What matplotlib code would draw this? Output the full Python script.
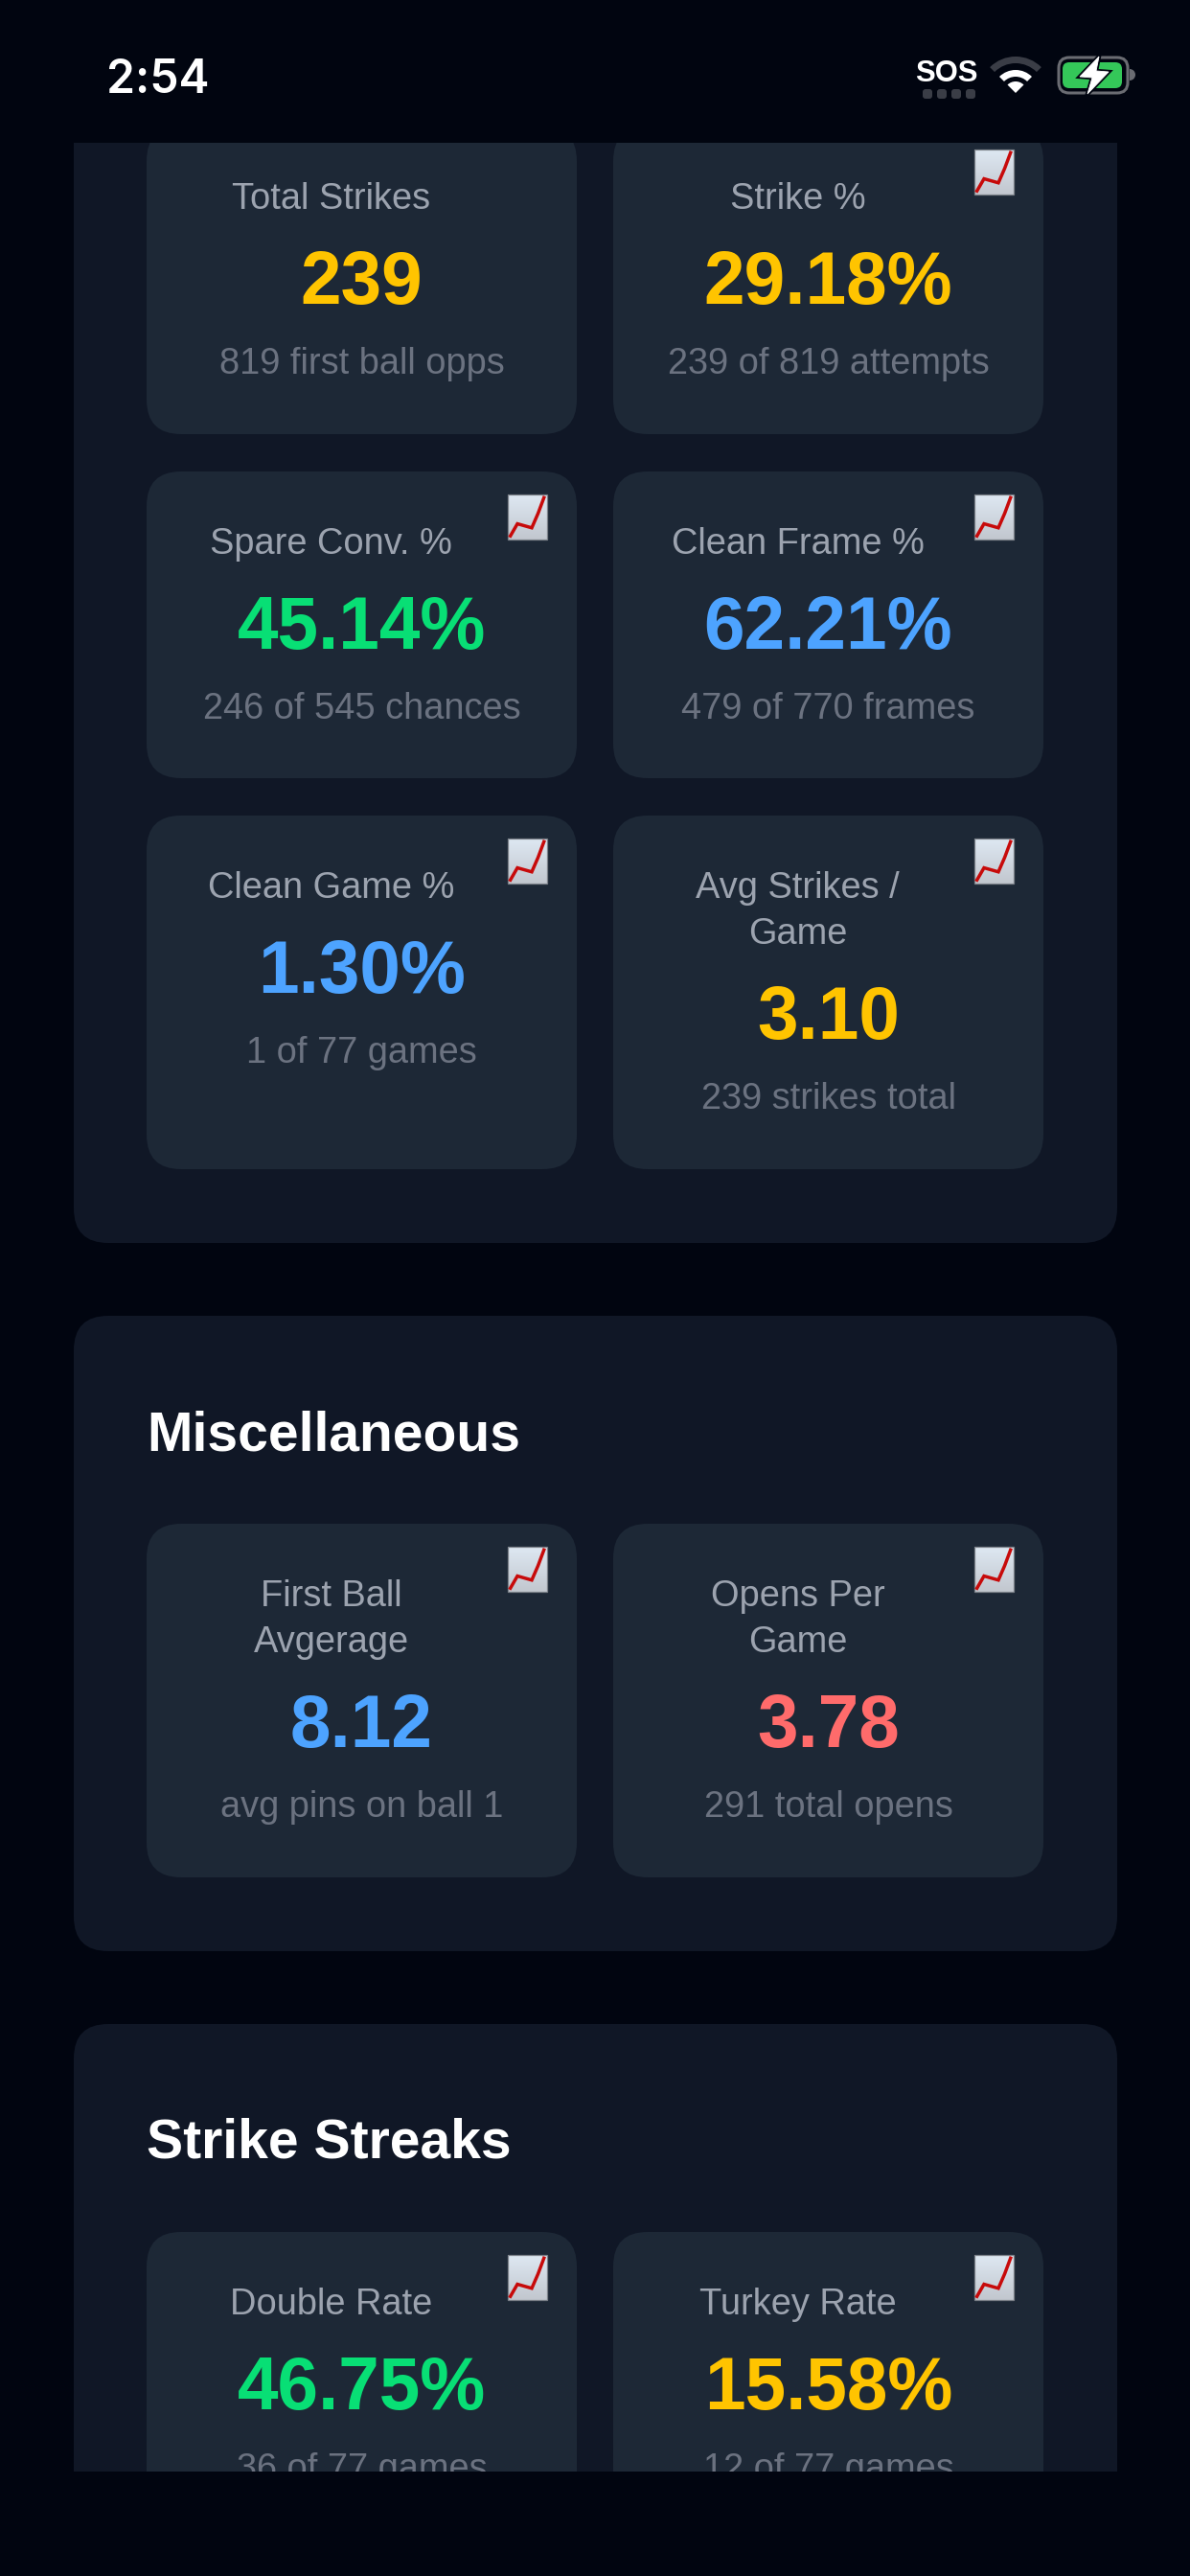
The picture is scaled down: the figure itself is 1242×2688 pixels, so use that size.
import matplotlib
matplotlib.use("Agg")
import matplotlib.pyplot as plt
import numpy as np
from matplotlib.patches import FancyBboxPatch, Rectangle, Wedge, Polygon

# ---- content ----
stat_labels = ["Total Strikes", "Strike %", "Spare Conv. %", "Clean Frame %", "Clean Game %",
               "Avg Strikes /\nGame", "First Ball\nAvgerage", "Opens Per\nGame", "Double Rate", "Turkey Rate"]
stat_values = ["239", "29.18%", "45.14%", "62.21%", "1.30%", "3.10", "8.12", "3.78", "46.75%", "15.58%"]
stat_notes = ["819 first ball opps", "239 of 819 attempts", "246 of 545 chances", "479 of 770 frames",
              "1 of 77 games", "239 strikes total", "avg pins on ball 1", "291 total opens",
              "36 of 77 games", "12 of 77 games"]
stat_colors = ["#ffc400", "#ffc400", "#08df75", "#4da3ff", "#4da3ff", "#ffc400", "#4da3ff", "#ff6b6b",
               "#08df75", "#ffc400"]
stat_icons = [False, True, True, True, True, True, True, True, True, True]
section_titles = ["Miscellaneous", "Strike Streaks"]
status_time = "2:54"
status_sos = "SOS"

BG, PANEL, CARD = "#010510", "#101726", "#1d2836"
LABEL, NOTE = "#9ca3af", "#6b7280"
SANS = ["Liberation Sans", "DejaVu Sans"]
W, H = 1242, 2688
px = lambda v: v * 0.72

fig = plt.figure(figsize=(W / 100, H / 100), dpi=100, facecolor=BG)
ax = fig.add_axes([0, 0, 1, 1])
ax.set_xlim(0, W); ax.set_ylim(H, 0); ax.axis("off")

clip = Rectangle((0, 149), W, 2579 - 149, transform=ax.transData, fc="none", ec="none")
ax.add_patch(clip)

def rbox(x0, y0, x1, y1, r, color, clipped=True, z=1, lw=0, ec="none"):
    p = FancyBboxPatch((x0, y0), x1 - x0, y1 - y0, boxstyle=f"round,pad=0,rounding_size={r}",
                       fc=color, ec=ec, lw=lw, zorder=z)
    ax.add_patch(p)
    if clipped:
        p.set_clip_path(clip)
    return p

def txt(x, y, s, size, color, weight="normal", ha="center", family=SANS, clipped=True, z=5):
    t = ax.text(x, y, s, fontsize=px(size), color=color, fontweight=weight, ha=ha, va="baseline",
                family=family, zorder=z)
    if clipped:
        t.set_clip_on(True)
        t.set_clip_path(clip)
    return t

def icon(x0, y0):
    w, h = 41, 47
    grad = np.linspace(0, 1, 64)[:, None, None]
    top, bot = np.array([0.87, 0.91, 0.95]), np.array([0.76, 0.78, 0.81])
    im = ax.imshow(top + (bot - top) * grad, extent=(x0, x0 + w, y0 + h, y0), aspect="auto", zorder=6,
                   interpolation="bilinear")
    im.set_clip_path(clip)
    ax.set_xlim(0, W); ax.set_ylim(H, 0)
    ax.add_patch(Rectangle((x0, y0), w, h, fc="none", ec="#7b8088", lw=0.9, zorder=7))
    fx = np.array([0.065, 0.244, 0.61, 0.77, 0.92])
    fy = np.array([0.92, 0.65, 0.74, 0.42, 0.07])
    ax.plot(x0 + fx * w, y0 + fy * h, color="#c70a0a", lw=2.5, zorder=8, solid_joinstyle="miter")

# panels
panels = [(77, 60, 1166, 1297), (77, 1373, 1166, 2036), (77, 2112, 1166, 2700)]
for p in panels:
    rbox(*p, 36, PANEL)

# cards: (stat index, column, top, bottom)
cols = [(153, 602), (640, 1089)]
rows = [(132, 453), (492, 812), (851, 1220), (1590, 1959), (2329, 2700)]
for i in range(len(stat_labels)):
    r = rows[i // 2] if i < 6 else rows[3 + (i - 6) // 2]
    c = cols[i % 2]
    rbox(c[0], r[0], c[1], r[1], 36, CARD, z=2)
    cx = (c[0] + c[1]) / 2
    lines = stat_labels[i].split("\n")
    extra = 48 * (len(lines) - 1)
    lx = cx - 32
    for k, ln in enumerate(lines):
        txt(lx, r[0] + 86 + 48 * k, ln, 38, LABEL)
    txt(cx, r[0] + 185 + extra, stat_values[i], 76.5, stat_colors[i], weight="bold")
    txt(cx, r[0] + 258 + extra, stat_notes[i], 38, NOTE)
    if stat_icons[i]:
        icon(c[1] - 72, r[0] + 24)

# section titles
txt(153, 1514, section_titles[0], 57, "white", weight="bold", ha="left")
txt(153, 2252, section_titles[1], 57, "white", weight="bold", ha="left")

# status bar
txt(165, 97, status_time, 48, "white", weight="semibold", family=["Inter", "DejaVu Sans"], clipped=False)
txt(988, 85, status_sos, 31, "white", weight="bold", family=["Liberation Sans"], clipped=False)
for k in range(4):
    rbox(963 + 15 * k, 93, 973 + 15 * k, 103, 3, "#3a3d46", clipped=False)

for r0, r1, col in [(31, 38, "#3a3d46"), (17, 24, "white"), (0, 12, "white")]:
    ax.add_patch(Wedge((1060, 97), r1, 225, 315, width=r1 - r0, fc=col, ec="none", zorder=4))

rbox(1105, 60, 1177, 97, 11, "none", clipped=False, lw=2.2, ec="#6a6c72")
rbox(1109, 65, 1171, 92, 7, "#34c759", clipped=False, z=2)
ax.add_patch(Wedge((1179, 78), 6, -90, 90, fc="#6a6c72", ec="none", zorder=2))
bolt = np.array([[1147, 59], [1127, 80], [1140, 81], [1135, 98], [1157, 75], [1144, 74]], dtype=float)
ax.add_patch(Polygon(bolt, closed=True, fc=BG, ec=BG, lw=3.2, zorder=5))
ax.add_patch(Polygon(bolt, closed=True, fc="white", ec="white", lw=0.6, zorder=6))

fig.savefig("out.png", dpi=100, facecolor=BG)
